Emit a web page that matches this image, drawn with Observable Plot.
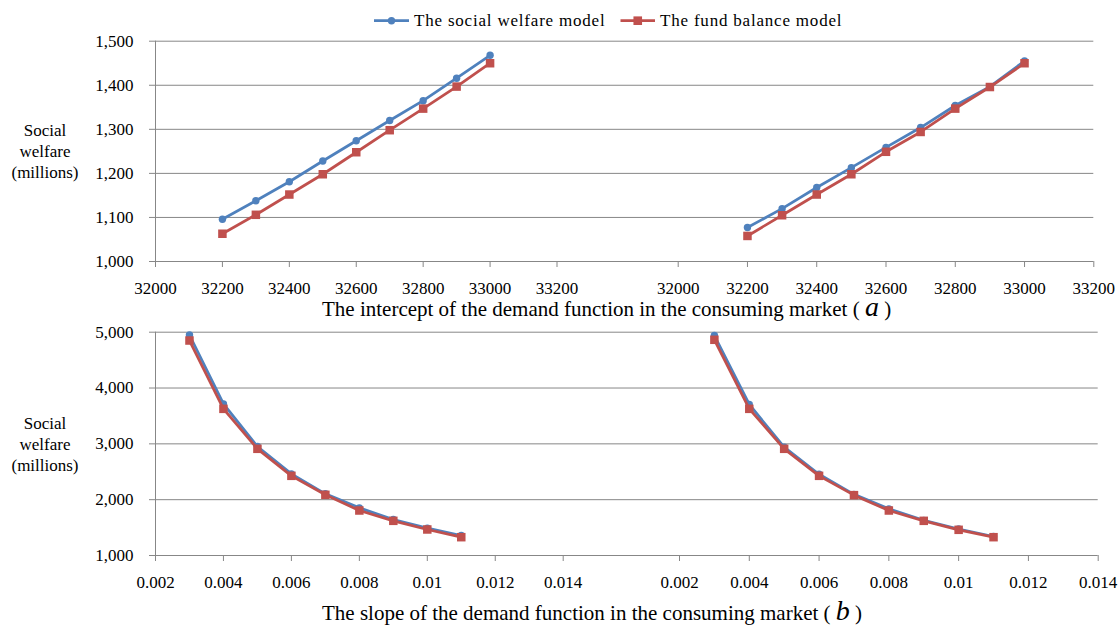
<!DOCTYPE html>
<html><head><meta charset="utf-8">
<script src="https://cdn.jsdelivr.net/npm/d3@7"></script>
<script src="https://cdn.jsdelivr.net/npm/@observablehq/plot@0.6"></script>
<style>
body{margin:0;background:#fff;font-family:"Liberation Serif","Times New Roman",serif;color:#000;}
#root{position:relative;width:1118px;height:625px;overflow:hidden;background:#fff;}
#root svg text{font-family:"Liberation Serif","Times New Roman",serif !important;}
.ylab{position:absolute;left:0;width:90px;text-align:center;font-size:17px;line-height:21px;}
.xtitle{position:absolute;left:322px;font-size:21px;line-height:21px;white-space:nowrap;}
.xtitle i{font-size:28px;}
</style></head><body><div id="root"></div>
<script>
// ---- data ----
const seriesNames = ["The social welfare model", "The fund balance model"];
const seriesColors = ["#4F81BD", "#C0504D"];

const interceptA = [32200, 32300, 32400, 32500, 32600, 32700, 32800, 32900, 33000];
const welfareA_left  = [1096, 1138, 1181, 1228, 1274, 1320, 1365, 1416, 1468];
const fundA_left     = [1063, 1106, 1152, 1198, 1248, 1298, 1347, 1397, 1450];
const welfareA_right = [1077, 1120, 1168, 1213, 1259, 1304, 1354, 1397, 1455];
const fundA_right    = [1058, 1105, 1152, 1198, 1249, 1294, 1347, 1396, 1450];

const slopeB = [0.003, 0.004, 0.005, 0.006, 0.007, 0.008, 0.009, 0.010, 0.011];
const welfareB_left  = [4950, 3715, 2952, 2463, 2105, 1854, 1645, 1489, 1358];
const fundB_left     = [4851, 3627, 2911, 2427, 2087, 1806, 1621, 1466, 1328];
const welfareB_right = [4940, 3705, 2940, 2455, 2095, 1836, 1630, 1475, 1340];
const fundB_right    = [4864, 3627, 2911, 2427, 2081, 1806, 1621, 1460, 1328];

const xTicksA = [32000, 32200, 32400, 32600, 32800, 33000, 33200];
const yTicksA = [1000, 1100, 1200, 1300, 1400, 1500];
const xTicksB = [0.002, 0.004, 0.006, 0.008, 0.01, 0.012, 0.014];
const yTicksB = [1000, 2000, 3000, 4000, 5000];

const yTitleLines = ["Social", "welfare", "(millions)"];
const xTitleA = "The intercept of the demand function in the consuming market ( ";
const xTitleB = "The slope of the demand function in the consuming market ( ";

// ---- drawing ----
const W = 1118;
const gridColor = "#878787";
const FONT = '"Liberation Serif","Times New Roman",serif';
const root = document.getElementById("root");

function panel(o) {
  const data = [];
  o.xs.forEach((x, i) => data.push({x, y: o.s1[i], k: 0}));
  o.xs.forEach((x, i) => data.push({x, y: o.s2[i], k: 1}));
  const s0 = data.filter(d => d.k === 0), s1 = data.filter(d => d.k === 1);
  const marks = [];
  if (o.withY) {
    marks.push(Plot.ruleY(o.yTicks, {stroke: gridColor, strokeWidth: 1}));
    marks.push(Plot.ruleX([o.xTicks[0]], {stroke: gridColor, strokeWidth: 1}));
    marks.push(Plot.axisY({ticks: o.yTicks, tickFormat: d3.format(","), tickSize: 6, tickPadding: 16,
      label: null, stroke: gridColor, fill: "#000", fontSize: 17}));
  }
  marks.push(Plot.axisX({ticks: o.xTicks, tickFormat: d => String(d), tickSize: 6, tickPadding: 14,
    label: null, stroke: gridColor, fill: "#000", fontSize: 17}));
  marks.push(Plot.line(s0, {x: "x", y: "y", stroke: seriesColors[0], strokeWidth: 2.75}));
  marks.push(Plot.dot(s0, {x: "x", y: "y", symbol: "circle", r: 3.7, fill: seriesColors[0], stroke: "none"}));
  marks.push(Plot.line(s1, {x: "x", y: "y", stroke: seriesColors[1], strokeWidth: 2.75}));
  marks.push(Plot.dot(s1, {x: "x", y: "y", symbol: "square", r: 4.8, fill: seriesColors[1], stroke: "none"}));
  const svg = Plot.plot({
    width: W, height: 300,
    marginLeft: 155, marginRight: o.marginRight, marginTop: o.marginTop, marginBottom: o.marginBottom,
    x: {domain: [o.xTicks[0], o.xTicks[o.xTicks.length - 1]], range: o.xRange, label: null},
    y: {domain: [o.yTicks[0], o.yTicks[o.yTicks.length - 1]], label: null, axis: o.withY ? undefined : null},
    style: {background: "transparent", fontFamily: FONT, fontSize: "17px", overflow: "visible",
      position: "absolute", left: "0px", top: o.top + "px", maxWidth: "none"},
    marks
  });
  svg.style.position = "absolute";
  svg.style.left = "0px";
  svg.style.top = o.top + "px";
  root.appendChild(svg);
}

// top row
panel({xs: interceptA, s1: welfareA_left, s2: fundA_left, xTicks: xTicksA, yTicks: yTicksA,
  withY: true, xRange: [155, 556.5], marginRight: W - 1093.3, marginTop: 40.7, marginBottom: 39, top: 0});
panel({xs: interceptA, s1: welfareA_right, s2: fundA_right, xTicks: xTicksA, yTicks: yTicksA,
  withY: false, xRange: [677.7, 1093.3], marginRight: W - 1093.3, marginTop: 40.7, marginBottom: 39, top: 0});
// bottom row
panel({xs: slopeB, s1: welfareB_left, s2: fundB_left, xTicks: xTicksB, yTicks: yTicksB,
  withY: true, xRange: [155, 562.7], marginRight: W - 1097.7, marginTop: 31.7, marginBottom: 45, top: 300});
panel({xs: slopeB, s1: welfareB_right, s2: fundB_right, xTicks: xTicksB, yTicks: yTicksB,
  withY: false, xRange: [679, 1097.7], marginRight: W - 1097.7, marginTop: 31.7, marginBottom: 45, top: 300});

// y titles
[119.5, 412.5].forEach(t => {
  const d = document.createElement("div");
  d.className = "ylab";
  d.style.top = t + "px";
  d.innerHTML = yTitleLines.join("<br>");
  root.appendChild(d);
});
// x titles
[[xTitleA, "a", 296], [xTitleB, "b", 600]].forEach(([txt, v, t]) => {
  const d = document.createElement("div");
  d.className = "xtitle";
  d.style.top = t + "px";
  d.append(document.createTextNode(txt));
  const i = document.createElement("i"); i.textContent = v; d.append(i);
  d.append(document.createTextNode(" )"));
  root.appendChild(d);
});

// legend
const leg = d3.select(root).append("svg")
  .attr("width", W).attr("height", 40)
  .style("position", "absolute").style("left", 0).style("top", 0);
const legItems = [
  {x0: 374, x1: 409, tx: 414, sym: "circle"},
  {x0: 620.5, x1: 655, tx: 660, sym: "square"}
];
legItems.forEach((it, i) => {
  const g = leg.append("g");
  g.append("line").attr("x1", it.x0).attr("x2", it.x1).attr("y1", 20.7).attr("y2", 20.7)
    .attr("stroke", seriesColors[i]).attr("stroke-width", 2.75);
  const cx = (it.x0 + it.x1) / 2;
  if (it.sym === "circle") g.append("circle").attr("cx", cx).attr("cy", 20.7).attr("r", 3.7).attr("fill", seriesColors[i]);
  else g.append("rect").attr("x", cx - 4.3).attr("y", 20.7 - 4.3).attr("width", 8.6).attr("height", 8.6).attr("fill", seriesColors[i]);
  g.append("text").attr("x", it.tx).attr("y", 26.3).attr("font-size", 17)
    .attr("letter-spacing", "0.8px").attr("fill", "#000").text(seriesNames[i]);
});
</script></body></html>
